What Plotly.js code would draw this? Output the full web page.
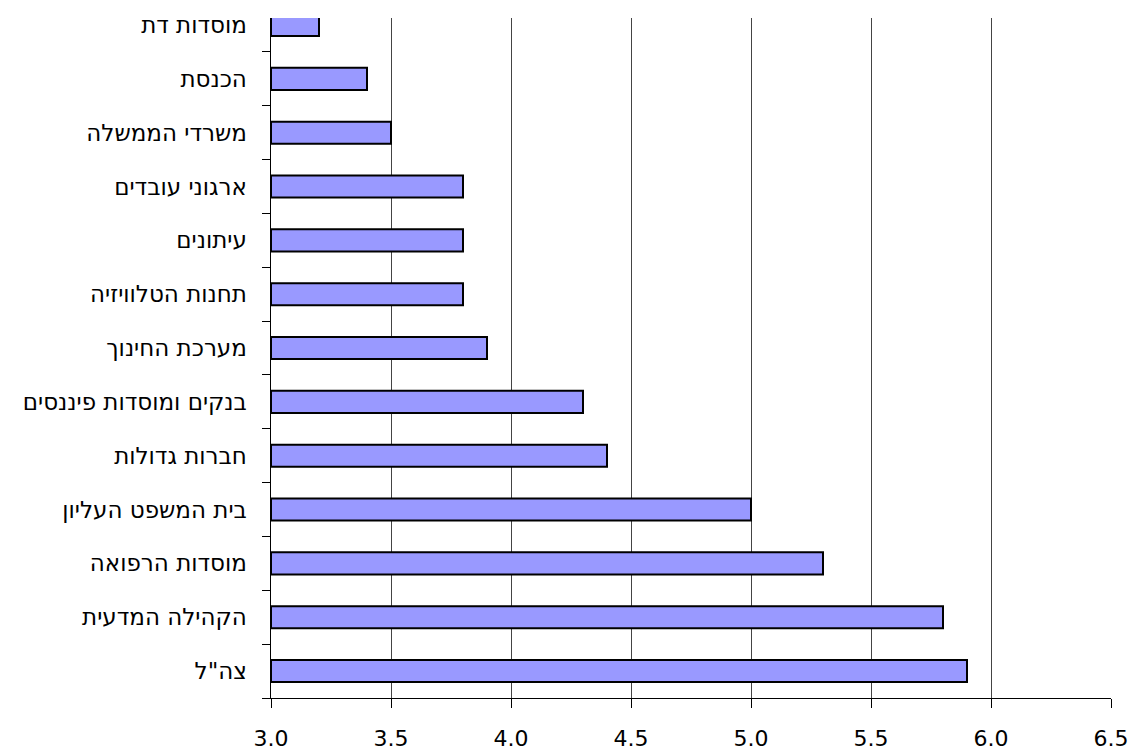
<!DOCTYPE html>
<html><head><meta charset="utf-8">
<script src="https://cdn.plot.ly/plotly-3.0.1.min.js"></script>
<style>html,body{margin:0;padding:0;background:#fff}</style>
</head><body>
<div id="chart" style="width:1135px;height:752px"></div>
<script>
const categories = ['צה"ל','הקהילה המדעית','מוסדות הרפואה','בית המשפט העליון','חברות גדולות','בנקים ומוסדות פיננסים','מערכת החינוך','תחנות הטלוויזיה','עיתונים','ארגוני עובדים','משרדי הממשלה','הכנסת','מוסדות דת'];
const values = [5.9,5.8,5.3,5.0,4.4,4.3,3.9,3.8,3.8,3.8,3.5,3.4,3.2];
const xTicks = [3.0,3.5,4.0,4.5,5.0,5.5,6.0,6.5];
const xTickText = xTicks.map(v=>v.toFixed(1));
const baseValue = 3;

Plotly.newPlot('chart', [{
  type:'bar', orientation:'h', y:categories, x:values.map(v=>v-baseValue), base:baseValue,
  marker:{color:'#9999FF', line:{color:'#000', width:2}},
  hoverinfo:'none'
}], {
  width:1135, height:752,
  margin:{l:271, r:24, t:18, b:54},
  paper_bgcolor:'#fff', plot_bgcolor:'#fff',
  bargap:0.59, showlegend:false,
  font:{family:'DejaVu Sans, Verdana, sans-serif', size:18, color:'#000'},
  xaxis:{range:[3,6.5], tickvals:xTicks, ticktext:xTickText, showgrid:true, gridcolor:'#444', gridwidth:1,
    zeroline:false, showline:true, linecolor:'#000', linewidth:1, ticks:'outside', ticklen:9, tickcolor:'#000',
    ticklabelstandoff:12, tickfont:{size:22, color:'#000'}},
  yaxis:{type:'category', range:[-0.5,12.13], showgrid:false, zeroline:false, showline:true, linecolor:'#000', linewidth:1.5,
    ticks:'outside', tickson:'boundaries', ticklen:8, tickcolor:'#000', ticklabelstandoff:18,
    tickfont:{size:23, color:'#000'}}
}, {staticPlot:true});
</script>
</body></html>
